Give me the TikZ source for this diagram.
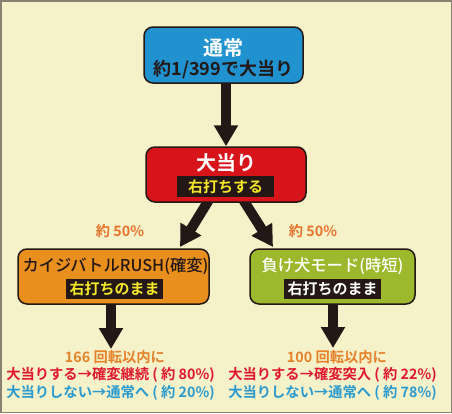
\documentclass[tikz,border=0pt]{standalone}
\usepackage{fontspec}
\setmainfont{Noto Sans CJK JP}[BoldFont={Noto Sans CJK JP Bold}]
\newfontfamily\medfont{Noto Sans CJK JP Medium}
\usetikzlibrary{arrows.meta,calc}
\definecolor{bg}{HTML}{F5F1C9}
\definecolor{frame}{HTML}{8A8175}
\definecolor{ink}{HTML}{231815}
\definecolor{bluebox}{HTML}{2092D0}
\definecolor{redbox}{HTML}{D7141A}
\definecolor{orangebox}{HTML}{E98F1E}
\definecolor{greenbox}{HTML}{9CB82C}
\definecolor{yel}{HTML}{F2E62A}
\definecolor{pct}{HTML}{E8732C}
\definecolor{txtorange}{HTML}{E5822A}
\definecolor{txtred}{HTML}{E0182D}
\definecolor{txtblue}{HTML}{2A9ACF}
\tikzset{
  box/.style={draw=ink, line width=1.5pt, rounded corners=9pt, inner sep=0pt},
  lbl/.style={fill=ink, inner sep=0pt, minimum width=97pt, minimum height=20pt, font=\bfseries\fontsize{15}{15}\selectfont},
  bigarrow/.style={draw=ink, line width=10pt, -{Triangle[width=23pt,length=21pt]}},
  txt/.style={inner sep=0pt, font=\bfseries\fontsize{14.3}{14.3}\selectfont},
}
\begin{document}
\begin{tikzpicture}[x=1pt,y=-1pt]
\useasboundingbox (0,0) rectangle (452,413);
\fill[bg] (0,0) rectangle (452,413);
\draw[frame, line width=1.5pt] (0.75,0.75) rectangle (451.25,412.25);

% coordinates for arrows
\coordinate (l0) at (215,190);
\coordinate (l1) at (180,247);
\coordinate (r0) at (237,190);
\coordinate (r1) at (273,247);
\coordinate (o1) at (111,349);
\coordinate (g1) at (333,348);

% boxes
\node[box, fill=bluebox, minimum width=159pt, minimum height=56pt] (top) at (223.5,55) {};
\node[box, fill=orangebox, minimum width=191pt, minimum height=55pt] (rush) at (113.5,276.5) {};
\node[box, fill=greenbox, minimum width=165pt, minimum height=55pt] (dog) at (332.5,276.5) {};

% arrows
\draw[bigarrow] (l0) -- (l1);
\draw[bigarrow] (r0) -- (r1);
\draw[bigarrow] (rush.south -| o1) -- (o1);
\draw[bigarrow] (dog.south -| g1) -- (g1);
\node[box, fill=redbox, minimum width=160pt, minimum height=55pt] (hit) at (226,174.5) {};
\draw[bigarrow] (top.south -| 226,0) -- (hit.north);

% texts in boxes
\node[txt, white, font=\bfseries\fontsize{20}{20}\selectfont] (t1) at (223.5,48) {通常};
\node[txt, ink, font=\bfseries\fontsize{18}{18}\selectfont] (t2) at (223.5,69.5) {約1/399で大当り};
\node[txt, white, font=\bfseries\fontsize{20}{20}\selectfont] (h1) at (226,163) {大当り};
\node[lbl, text=yel, minimum height=21pt] (h2) at (225.5,186.5) {右打ちする};
\node[txt, ink, font=\medfont\fontsize{16.3}{16.3}\selectfont] (r1t) at (115.5,266.5) {カイジバトルRUSH(確変)};
\node[lbl, text=yel] (r2t) at (114.5,289) {右打ちのまま};
\node[txt, white, font=\medfont\fontsize{16.3}{16.3}\selectfont] (d1t) at (332.5,266.5) {負け犬モード(時短)};
\node[lbl, text=white] (d2t) at (332.5,289) {右打ちのまま};

% percentages
\node[txt, pct] (p1) at (120,231) {約 50\%};
\node[txt, pct] (p2) at (313,231) {約 50\%};

% results left
\node[txt, txtorange] (a1) at (115,357) {166 回転以内に};
\node[txt, txtred] (a2) at (110.5,375) {大当りする→確変継続 ( 約 80\%)};
\node[txt, txtblue] (a3) at (110.5,392.5) {大当りしない→通常へ ( 約 20\%)};
% results right
\node[txt, txtorange] (b1) at (337,357) {100 回転以内に};
\node[txt, txtred] (b2) at (332.5,375) {大当りする→確変突入 ( 約 22\%)};
\node[txt, txtblue] (b3) at (332.5,392.5) {大当りしない→通常へ ( 約 78\%)};
\end{tikzpicture}
\end{document}
